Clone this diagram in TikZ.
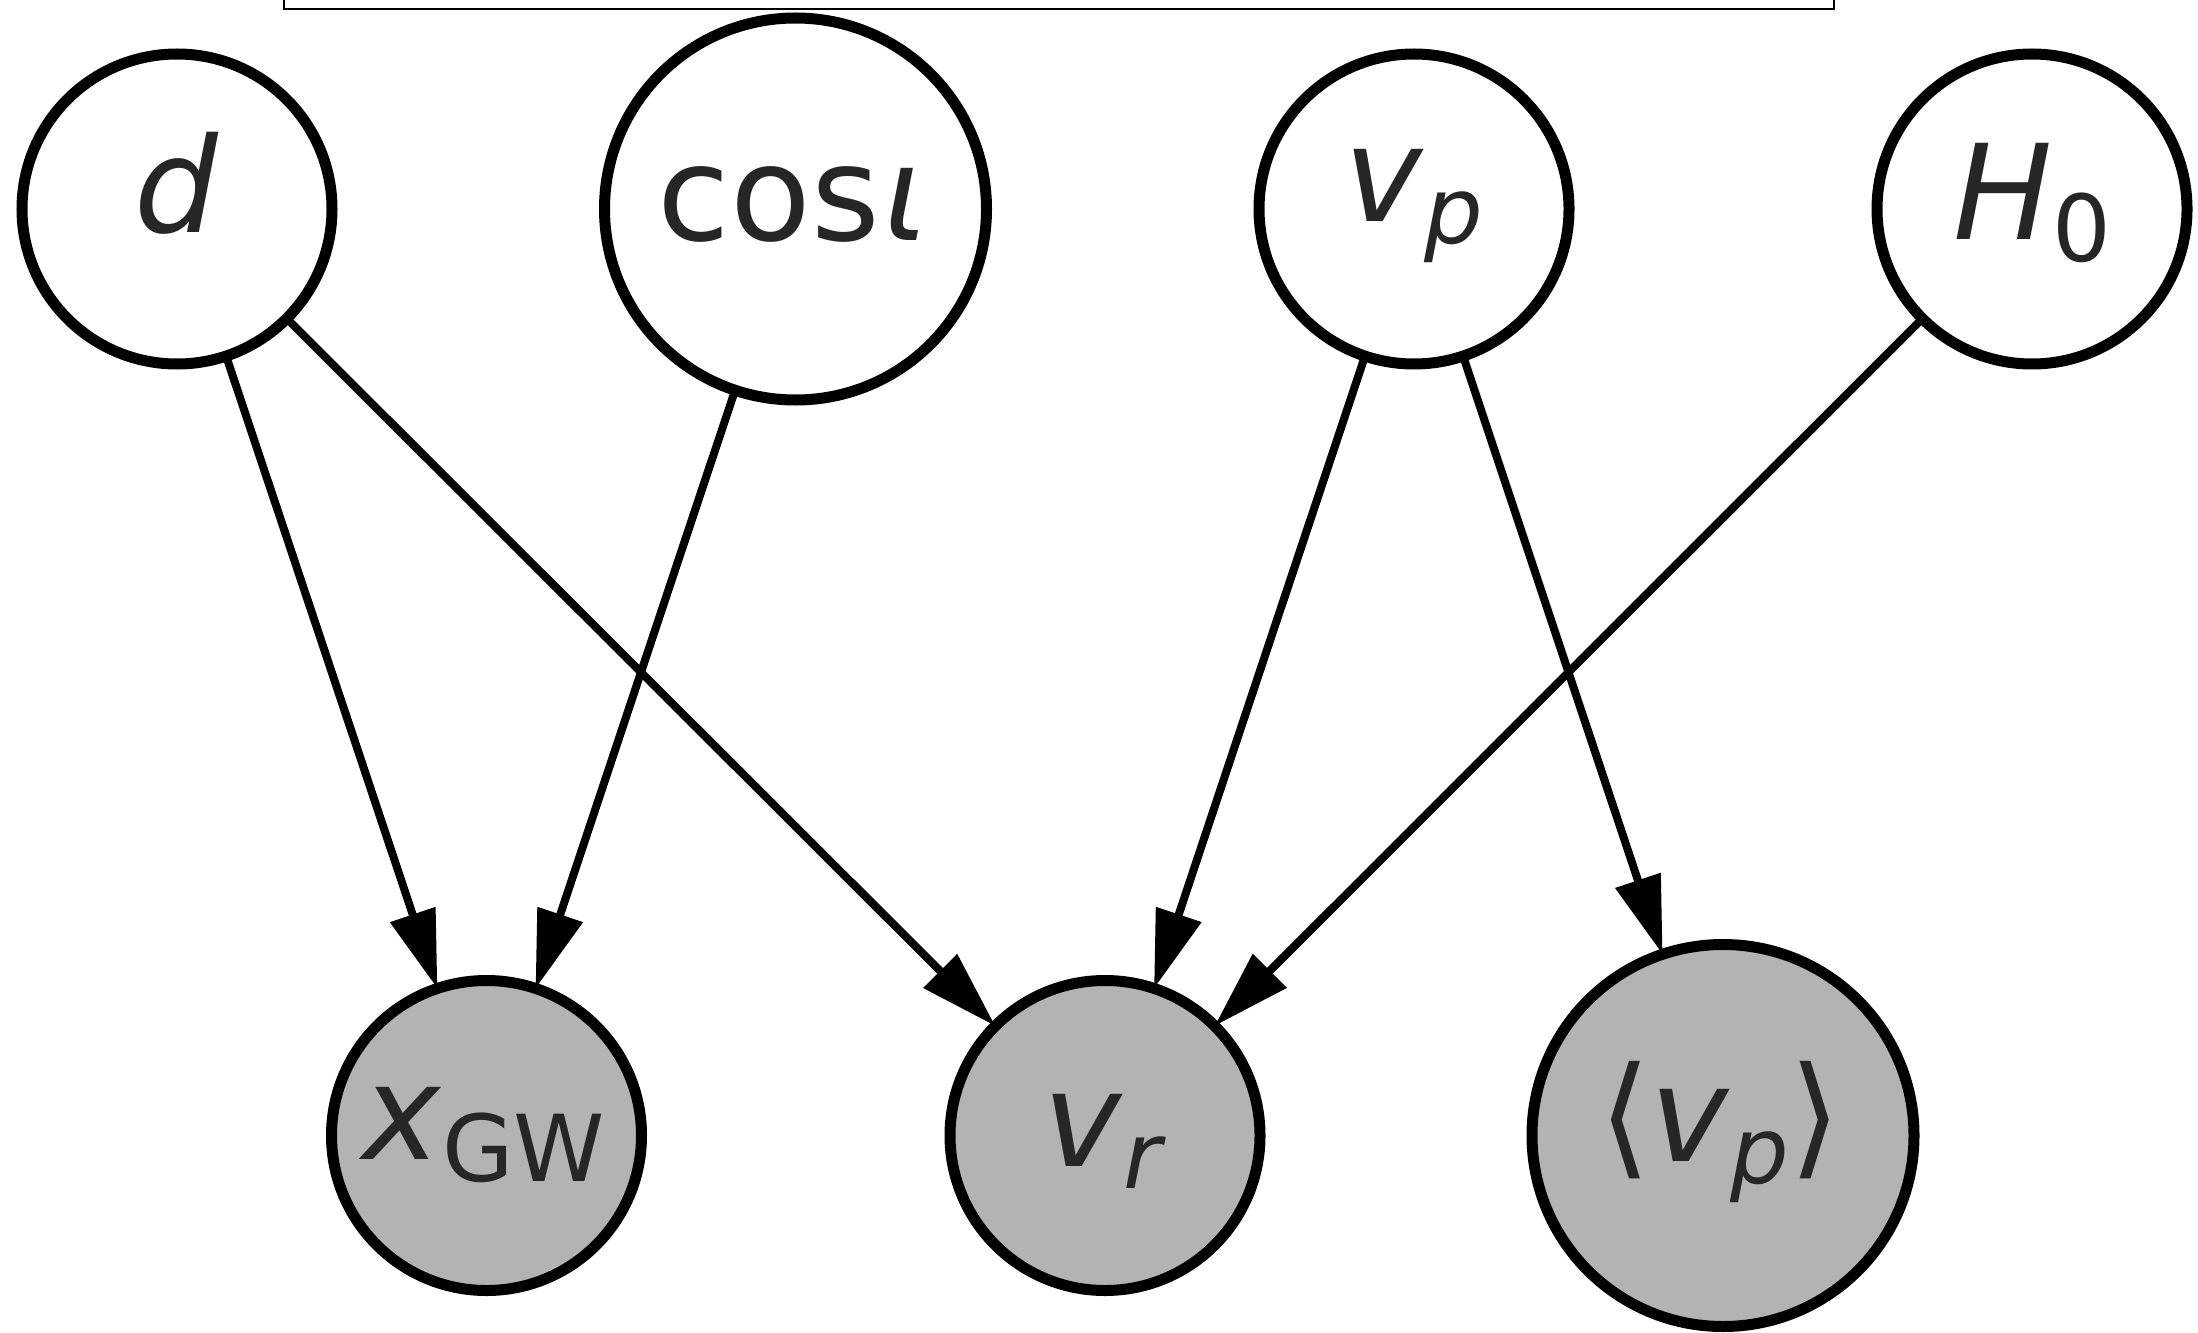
\documentclass[tikz,border=0pt]{standalone}
\usepackage{fontspec}
\setmainfont{DejaVu Sans}
\usetikzlibrary{arrows.meta}

\definecolor{ink}{RGB}{38,38,38}
\definecolor{obsfill}{RGB}{179,179,179}

% label font: 66pt main size, subscripts at 0.7 and lowered
\newcommand\lblsize{\fontsize{66}{72}\selectfont}
\newcommand\lowsub[1]{\raisebox{-11pt}{\fontsize{46.2}{50}\selectfont #1}}

\tikzset{
  latent/.style={circle, draw=black, line width=5.5pt, fill=white,
                 minimum size=155pt, inner sep=0pt, outer sep=0pt},
  observed/.style={latent, fill=obsfill},
  bignode/.style={minimum size=191pt},
  lbl/.style={anchor=base, inner sep=0pt, outer sep=0pt, text=ink,
              font=\lblsize},
  link/.style={line width=4pt, draw=black,
               -{Triangle[length=39pt, width=23pt]}},
  plate/.style={draw=black, line width=1pt}
}

\begin{document}
\begin{tikzpicture}[x=0.5pt, y=-0.5pt]
  \useasboundingbox (0,0) rectangle (2198,1332);

  % plate edge running off the top
  \draw[plate] (283.8,-40) -- (283.8,9.3) -- (1833.6,9.3) -- (1833.6,-40);

  % parameter nodes
  \node[latent]          (d)    at (177,209)   {};
  \node[latent, bignode] (cosi) at (795.5,209) {};
  \node[latent]          (vp)   at (1414,209)  {};
  \node[latent]          (H0)   at (2032,209)  {};

  % observed nodes
  \node[observed]          (xgw) at (486.5,1135.5) {};
  \node[observed]          (vr)  at (1105,1135.5)  {};
  \node[observed, bignode] (avp) at (1723,1135.5)  {};

  % labels, placed on their baselines
  \node[lbl] (d-lbl)    at (177,233)    {\textit{d}};
  \node[lbl] (cosi-lbl) at (793,241)    {cos\hspace{2pt}\textit{ι}};
  \node[lbl] (vp-lbl)   at (1414,221)   {\textit{v}\lowsub{\textit{p}}};
  \node[lbl] (H0-lbl)   at (2032,240)   {\textit{H}\lowsub{0}};
  \node[lbl] (xgw-lbl)  at (484,1159)   {\textit{x}\lowsub{GW}};
  \node[lbl] (vr-lbl)   at (1105,1166)  {\textit{v}\lowsub{\textit{r}}};
  \node[lbl] (avp-lbl)  at (1720,1161)  {⟨\textit{v}\lowsub{\textit{p}}⟩};

  % dependencies
  \draw[link] (d)    -- (xgw);
  \draw[link] (d)    -- (vr);
  \draw[link] (cosi) -- (xgw);
  \draw[link] (vp)   -- (vr);
  \draw[link] (vp)   -- (avp);
  \draw[link] (H0)   -- (vr);
\end{tikzpicture}
\end{document}
